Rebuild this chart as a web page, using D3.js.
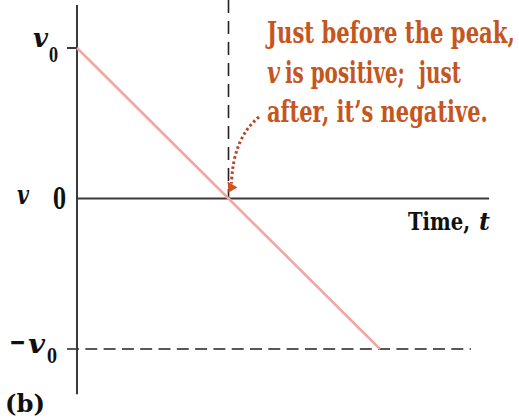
<!DOCTYPE html>
<html>
<head>
<meta charset="utf-8">
<script src="https://cdn.jsdelivr.net/npm/d3@7"></script>
<style>
  html, body { margin: 0; padding: 0; background: #fff; }
  svg text { font-family: "DejaVu Serif Condensed", "DejaVu Serif", serif; font-stretch: condensed; font-weight: bold; white-space: pre; }
</style>
</head>
<body>
<svg id="chart" width="519" height="418"></svg>
<script>
// Velocity of a ball thrown straight up: v falls linearly from v0 to -v0
const times = [0, 1, 2];            // t (peak at t = 1)
const velocities = [1, 0, -1];      // v in units of v0
const tickValues = [1, 0, -1];
const tickNames = ["v0", "0", "-v0"];
const noteLines = ["Just before the peak,", "v is positive;  just", "after, it\u2019s negative."];

const svg = d3.select("#chart");

const x = d3.scaleLinear().domain([0, 2]).range([77, 380]);
const y = d3.scaleLinear().domain([1, -1]).range([48, 349]);

const axisColor = "#3a3a3a";
const noteColor = "#c5561e";
const ink = "#111";

// helper: a text piece squeezed horizontally to a given width
function piece(xPos, yPos, str, size, width, opts = {}) {
  const t = svg.append("text")
    .attr("x", 0).attr("y", 0)
    .attr("font-size", size)
    .attr("fill", opts.fill || ink)
    .text(str);
  if (opts.italic) t.attr("font-style", "italic");
  const natural = t.node().getComputedTextLength();
  const sx = width && natural ? width / natural : 1;
  t.attr("transform", `translate(${xPos},${yPos}) scale(${sx},1)`);
  return t;
}

// dashed guide at the peak time
svg.append("line")
  .attr("x1", x(1)).attr("x2", x(1))
  .attr("y1", 0).attr("y2", y(0))
  .attr("stroke", "#222").attr("stroke-width", 1.6)
  .attr("stroke-dasharray", "13 8");

// dashed guide at -v0
svg.append("line")
  .attr("x1", x(-0.066)).attr("x2", x(2.6))
  .attr("y1", y(-1)).attr("y2", y(-1))
  .attr("stroke", "#222").attr("stroke-width", 1.6)
  .attr("stroke-dasharray", "12 6.3");

// vertical axis
svg.append("line")
  .attr("x1", x(0)).attr("x2", x(0))
  .attr("y1", y(1.285)).attr("y2", y(-1.3))
  .attr("stroke", axisColor).attr("stroke-width", 2);

// time axis (v = 0)
svg.append("line")
  .attr("x1", x(0)).attr("x2", x(2.72))
  .attr("y1", y(0)).attr("y2", y(0))
  .attr("stroke", axisColor).attr("stroke-width", 2);

// v0 tick
svg.append("line")
  .attr("x1", x(0) - 10).attr("x2", x(0))
  .attr("y1", y(1)).attr("y2", y(1))
  .attr("stroke", axisColor).attr("stroke-width", 2);

// velocity line
const line = d3.line().x((d, i) => x(times[i])).y(d => y(d));
svg.append("path")
  .datum(velocities)
  .attr("d", line)
  .attr("fill", "none")
  .attr("stroke", "#f1a8a2")
  .attr("stroke-width", 2.6);

// tick labels on the velocity axis
tickValues.forEach((v, i) => {
  const name = tickNames[i];
  const yy = y(v);
  if (name === "v0") {
    piece(33, yy - 1, "v", 26, 15, { italic: true });
    piece(49, yy + 14, "0", 20, 9);
  } else if (name === "-v0") {
    piece(9, yy + 3, "\u2212", 30, 17);
    piece(28, yy + 4, "v", 26, 17, { italic: true });
    piece(47, yy + 14, "0", 20, 10);
  } else {
    piece(53, yy + 10, name, 29, 13);
  }
});

// axis variable name
piece(17, y(0) + 5, "v", 26, 12, { italic: true });

// time axis title
piece(408, 230, "Time,", 24, 62);
piece(479, 230, "t", 24, 11, { italic: true });

// panel label
piece(5, 412, "(b)", 25, 40);

// annotation
const noteWidths = [248, 194, 221];
noteLines.forEach((s, i) => {
  const yy = 43 + i * 39.5;
  if (s.startsWith("v ")) {
    piece(267, yy, "v", 29, 13, { italic: true, fill: noteColor });
    piece(285, yy, s.slice(2), 29, noteWidths[i] - 18, { fill: noteColor });
  } else {
    piece(267, yy, s, 29, noteWidths[i], { fill: noteColor });
  }
});

// dotted pointer from the note to the zero crossing
const tip = [x(1) + 1, y(0) - 9];
svg.append("path")
  .attr("d", `M259,117 Q233,138 ${tip[0] + 2},${tip[1] - 6}`)
  .attr("fill", "none")
  .attr("stroke", "#b8452a")
  .attr("stroke-width", 3)
  .attr("stroke-dasharray", "2.6 2.6");
svg.append("path")
  .attr("d", `M${tip[0] - 1},${tip[1] + 3} L${tip[0] - 2},${tip[1] - 8} L${tip[0] + 8},${tip[1] - 2} Z`)
  .attr("fill", "#d0551c");
</script>
</body>
</html>
